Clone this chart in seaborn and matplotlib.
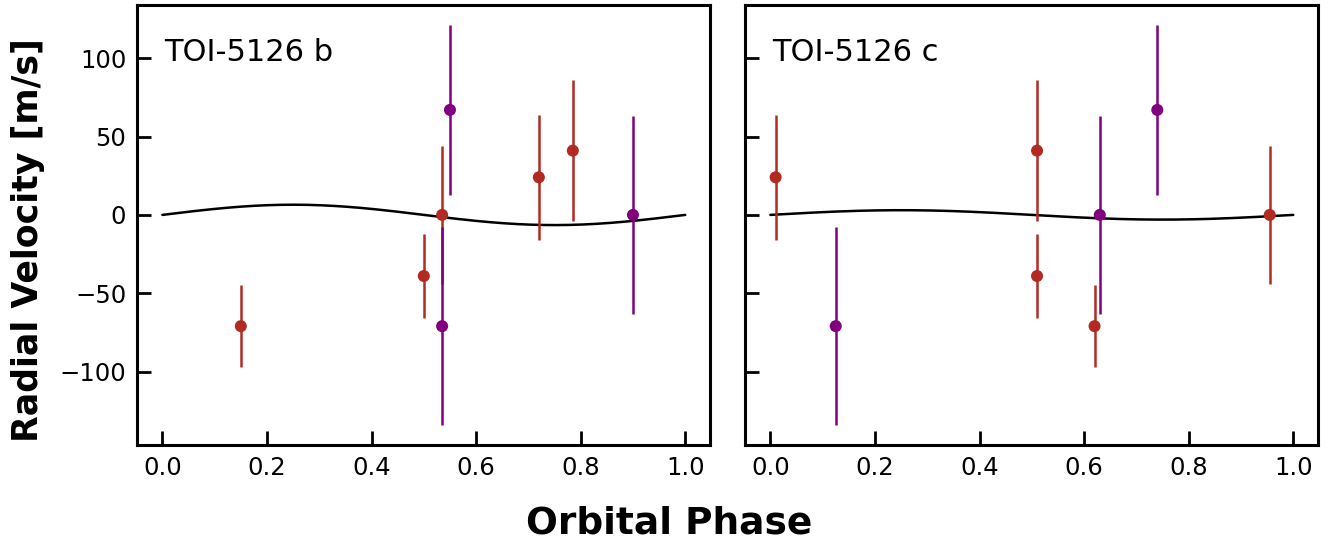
import matplotlib
matplotlib.use("Agg")

import matplotlib.pyplot as plt
import numpy as np
import pandas as pd
import seaborn as sns

# ─── DATA ────────────────────────────────────────────────────────
RED    = "#b22a22"
PURPLE = "#800080"

# TOI-5126 b
b_red_phase   = [0.15, 0.50, 0.535, 0.72, 0.785]
b_red_rv      = [-71, -39, 0, 24, 41]
b_red_err     = [26, 27, 44, 40, 45]
b_pur_phase   = [0.55, 0.535, 0.90]
b_pur_rv      = [67, -71, 0]
b_pur_err     = [54, 63, 63]
b_K           = 6.5

# TOI-5126 c
c_red_phase   = [0.01, 0.51, 0.51, 0.62, 0.955]
c_red_rv      = [24, 41, -39, -71, 0]
c_red_err     = [40, 45, 27, 26, 44]
c_pur_phase   = [0.125, 0.63, 0.74]
c_pur_rv      = [-71, 0, 67]
c_pur_err     = [63, 63, 54]
c_K           = 3.0

panels = [
    ("TOI-5126 b", b_red_phase, b_red_rv, b_red_err, b_pur_phase, b_pur_rv, b_pur_err, b_K),
    ("TOI-5126 c", c_red_phase, c_red_rv, c_red_err, c_pur_phase, c_pur_rv, c_pur_err, c_K),
]

# ─── PLOT ────────────────────────────────────────────────────────
sns.set_style("ticks")
plt.rcParams.update({
    "font.family": ["DejaVu Sans"],
    "text.color": "black", "axes.labelcolor": "black",
    "xtick.color": "black", "ytick.color": "black",
    "axes.edgecolor": "black",
})

fig, axes = plt.subplots(1, 2, figsize=(13.33, 5.45), dpi=100, sharey=True)
fig.subplots_adjust(left=0.103, right=0.989, top=0.991, bottom=0.183, wspace=0.061)

phase_grid = np.linspace(0, 1, 200)

for ax, (name, rp, rr, re, pp, pr, pe, K) in zip(axes, panels):
    model = pd.DataFrame({"phase": phase_grid, "rv": K * np.sin(2 * np.pi * phase_grid)})
    sns.lineplot(data=model, x="phase", y="rv", color="black", linewidth=1.8, ax=ax)

    ax.errorbar(rp, rr, yerr=re, fmt="none", ecolor=RED, elinewidth=1.8, zorder=3)
    ax.errorbar(pp, pr, yerr=pe, fmt="none", ecolor=PURPLE, elinewidth=1.8, zorder=3)
    sns.scatterplot(x=rp, y=rr, color=RED, s=75, edgecolor="none", zorder=4, ax=ax)
    sns.scatterplot(x=pp, y=pr, color=PURPLE, s=75, edgecolor="none", zorder=4, ax=ax)

    ax.text(0.047, 0.893, name, transform=ax.transAxes, fontsize=22, va="center", ha="left")

    ax.set_xlim(-0.048, 1.048)
    ax.set_ylim(-147, 134)
    ax.set_xticks([0.0, 0.2, 0.4, 0.6, 0.8, 1.0])
    ax.set_yticks([-100, -50, 0, 50, 100])
    ax.set_xlabel("")
    ax.set_ylabel("")
    ax.tick_params(direction="in", length=10, width=2, labelsize=17.5, pad=8,
                   bottom=True, left=True, top=False, right=False)
    for sp in ax.spines.values():
        sp.set_linewidth(2.2)
        sp.set_color("black")
        sp.set_visible(True)

axes[1].tick_params(labelleft=False)

fig.text(0.021, 0.56, "Radial Velocity [m/s]", rotation=90, fontsize=25,
         fontweight="bold", va="center", ha="center")
fig.text(0.502, 0.04, "Orbital Phase", fontsize=27, fontweight="bold",
         va="center", ha="center")

fig.savefig("out.png", dpi=100)
